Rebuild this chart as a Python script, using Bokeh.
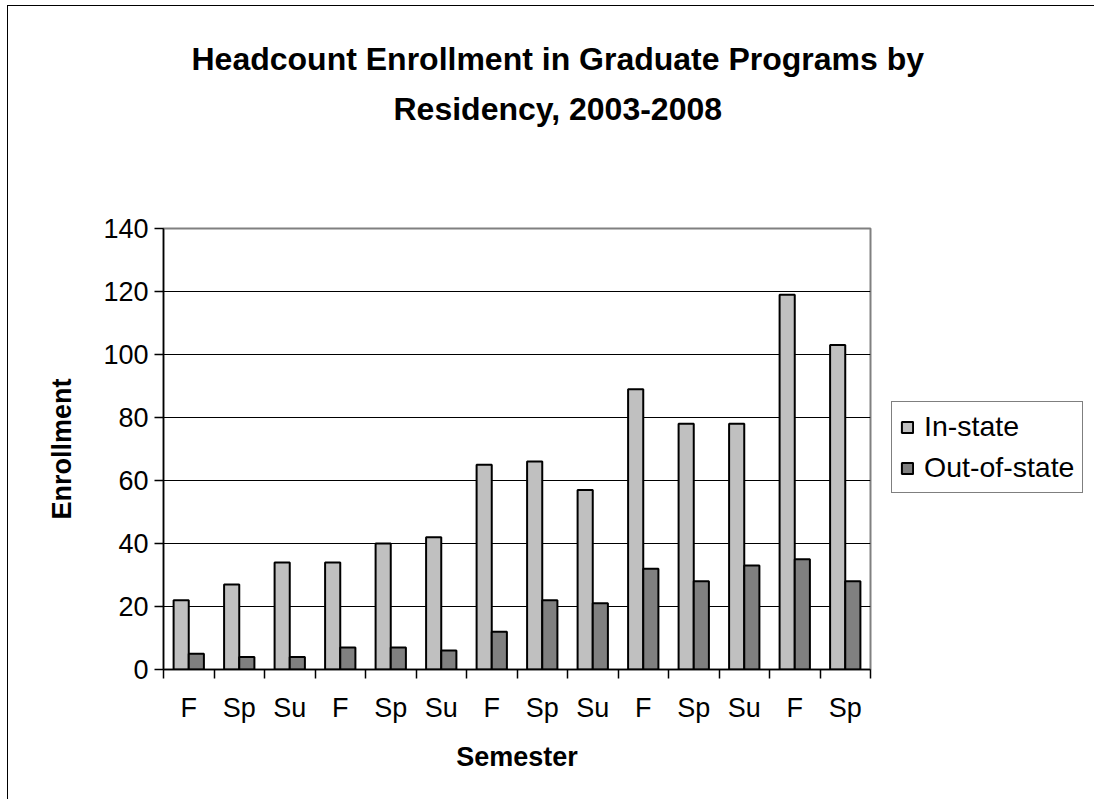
from bokeh.plotting import figure
from bokeh.models import ColumnDataSource, Range1d, FixedTicker, Title
from bokeh.transform import dodge
from bokeh.embed import file_html
from bokeh.resources import INLINE

semesters = ["F", "Sp", "Su", "F", "Sp", "Su", "F", "Sp", "Su", "F", "Sp", "Su", "F", "Sp"]
in_state = [22, 27, 34, 34, 40, 42, 65, 66, 57, 89, 78, 78, 119, 103]
out_of_state = [5, 4, 4, 7, 7, 6, 12, 22, 21, 32, 28, 33, 35, 28]
y_ticks = [0, 20, 40, 60, 80, 100, 120, 140]
title_lines = ["Headcount Enrollment in Graduate Programs by", "Residency, 2003-2008"]

idx = list(range(len(semesters)))
src = ColumnDataSource(dict(x=idx, ins=in_state, outs=out_of_state))

FONT = "Liberation Sans"

p = figure(frame_width=707, frame_height=441,
           min_border_left=155, min_border_right=214,
           min_border_top=222, min_border_bottom=130,
           x_range=Range1d(-0.5, len(semesters) - 0.5), y_range=Range1d(0, 140),
           output_backend="svg", toolbar_location=None, title=None)
p.styles = {"margin-top": "5px", "margin-left": "7px",
            "border-top": "1px solid #000", "border-left": "1px solid #000"}

p.background_fill_color = "white"
p.border_fill_color = "white"
p.outline_line_color = "#808080"
p.outline_line_width = 2

p.vbar(x=dodge("x", -0.15, range=p.x_range), top="ins", width=0.3, source=src,
       fill_color="#C0C0C0", line_color="black", line_width=2, legend_label="In-state")
p.vbar(x=dodge("x", 0.15, range=p.x_range), top="outs", width=0.3, source=src,
       fill_color="#808080", line_color="black", line_width=2, legend_label="Out-of-state")

# grid
p.xgrid.visible = False
p.ygrid.ticker = FixedTicker(ticks=y_ticks[1:-1])
p.ygrid.grid_line_color = "black"
p.ygrid.grid_line_width = 1

# y axis
ya = p.yaxis[0]
ya.ticker = FixedTicker(ticks=y_ticks)
ya.axis_line_color = "black"
ya.axis_line_width = 1.5
ya.major_tick_line_color = "black"
ya.major_tick_line_width = 1.5
ya.major_tick_in = 0
ya.major_tick_out = 9
ya.minor_tick_line_color = None
ya.major_label_text_font = FONT
ya.major_label_text_font_size = "27px"
ya.major_label_text_color = "black"
ya.major_label_standoff = 6
ya.axis_label = "Enrollment"
ya.axis_label_text_font = FONT
ya.axis_label_text_font_size = "27px"
ya.axis_label_text_font_style = "bold"
ya.axis_label_text_color = "black"
ya.axis_label_standoff = 23

# x axis
xa = p.xaxis[0]
xa.ticker = FixedTicker(ticks=idx, minor_ticks=[i - 0.5 for i in range(len(semesters) + 1)])
xa.major_label_overrides = {i: s for i, s in zip(idx, semesters)}
xa.axis_line_color = "black"
xa.axis_line_width = 1.5
xa.major_tick_line_color = None
xa.minor_tick_line_color = "black"
xa.minor_tick_line_width = 1.5
xa.minor_tick_in = 0
xa.minor_tick_out = 9
xa.major_label_text_font = FONT
xa.major_label_text_font_size = "27px"
xa.major_label_text_color = "black"
xa.major_label_standoff = 14
xa.axis_label = "Semester"
xa.axis_label_text_font = FONT
xa.axis_label_text_font_size = "27px"
xa.axis_label_text_font_style = "bold"
xa.axis_label_text_color = "black"
xa.axis_label_standoff = 16

# title: spacer next to the plot, then line 2, then line 1
# (both lines centred on the chart area, which is wider than the plot frame)
p.add_layout(Title(text=" ", standoff=93, text_font_size="1px"), "above")
for line, off in [(title_lines[1], 230), (title_lines[0], 28)]:
    p.add_layout(Title(text=line, align="left", offset=off, standoff=12,
                       text_font=FONT, text_font_size="32px", text_font_style="bold",
                       text_color="black"), "above")

# legend, placed in the right-hand panel
lg = p.legend[0]
p.center.remove(lg)
p.add_layout(lg, "right")
lg.location = (21, 176)
lg.border_line_color = "black"
lg.border_line_width = 1
lg.background_fill_color = "white"
lg.background_fill_alpha = 1
lg.label_text_font = FONT
lg.label_text_font_size = "28.5px"
lg.label_text_color = "black"
lg.glyph_width = 14
lg.glyph_height = 14
lg.padding = 8
lg.spacing = 8
lg.label_standoff = 10
lg.margin = 0

open("out.html", "w").write(file_html(p, INLINE))
